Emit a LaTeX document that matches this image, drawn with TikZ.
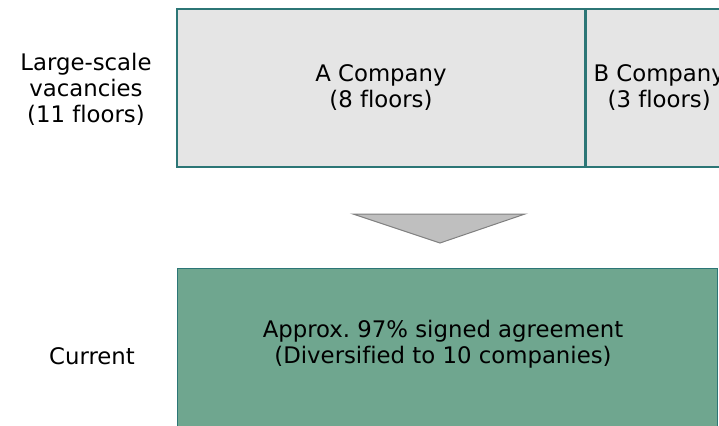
\documentclass[tikz,border=0pt]{standalone}
\usepackage{fontspec}
\setmainfont[Ligatures=NoCommon]{DejaVu Sans}
\usetikzlibrary{positioning}
\definecolor{boxline}{HTML}{2C7676}
\definecolor{boxgray}{HTML}{E5E5E5}
\definecolor{boxgreen}{HTML}{6FA68F}
\definecolor{tripgray}{HTML}{BFBFBF}
\definecolor{triline}{HTML}{808080}

\begin{document}
\begin{tikzpicture}[x=1pt,y=-1pt]
      \tikzstyle{every node}=[font=\fontsize{22.8}{26}\selectfont, align=center, inner sep=0pt]
      \tikzstyle{floorbox}=[draw=boxline, fill=boxgray, line width=1.2pt]
      \tikzstyle{nowbox}=[draw=boxline, fill=boxgreen, line width=1.2pt]
      \useasboundingbox (0,0) rectangle (719,425);
      \clip (0,0) rectangle (719,425);

      \node (vac) at (86,89) {Large-scale\\vacancies\\(11 floors)};
      \node (cur) at (92,356) {Current};

      \node[floorbox, minimum width=408, minimum height=158] (boxA) at (381,88) {A Company\\(8 floors)};
      \node[floorbox, minimum width=146, minimum height=158, right=0pt of boxA] (boxB) {B Company\\(3 floors)};

      \node[nowbox, anchor=north west, minimum width=540, minimum height=180] (now) at (177,268) {};
      \node (nowtext) at (443,344) {Approx.\ 97\% signed agreement\\(Diversified to 10 companies)};

      % arrow between the two states
      \draw[draw=triline, fill=tripgray, line width=1pt] (353,214) -- (525,214) -- (440,243) -- cycle;
\end{tikzpicture}
\end{document}
